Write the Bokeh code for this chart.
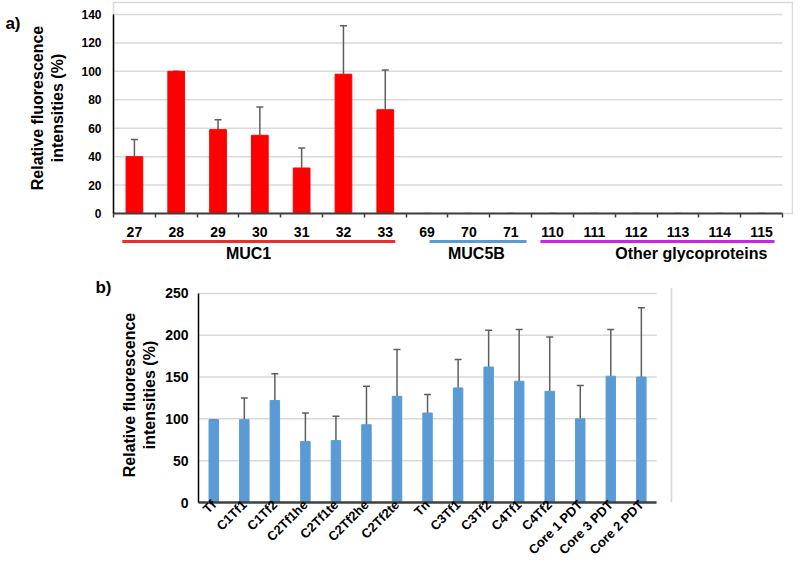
import math
import numpy as np
from bokeh.plotting import figure
from bokeh.models import (ColumnDataSource, FixedTicker, Range1d, Whisker, TeeHead,
                          Span, LinearAxis)
from bokeh.embed import file_html
from bokeh.resources import INLINE
from bokeh.core.properties import value

FONT = "Liberation Sans"

# ---------------- data: panel a ----------------
a_categories = ["27", "28", "29", "30", "31", "32", "33", "69", "70", "71",
                "110", "111", "112", "113", "114", "115"]
a_values = [40, 100, 59, 55, 32, 98, 73, 0, 0, 0, 0, 0, 0, 0, 0, 0]
a_err_top = [52, 100, 66, 75, 46, 132, 101, 0, 0, 0, 0, 0, 0, 0, 0, 0]
a_groups = ["MUC1", "MUC5B", "Other glycoproteins"]
a_group_sizes = [7, 3, 6]
a_yticks = [0, 20, 40, 60, 80, 100, 120, 140]

# ---------------- data: panel b ----------------
b_categories = ["Tf", "C1Tf1", "C1Tf2", "C2Tf1he", "C2Tf1te", "C2Tf2he", "C2Tf2te",
                "Tn", "C3Tf1", "C3Tf2", "C4Tf1", "C4Tf2", "Core 1 PDT",
                "Core 3 PDT", "Core 2 PDT"]
b_values = [99, 99, 122, 73, 74, 93, 127, 107, 137, 162, 145, 133, 100, 151, 150]
b_err_top = [99, 125, 154, 107, 103, 139, 183, 129, 171, 206, 207, 198, 140, 207, 233]
b_yticks = [0, 50, 100, 150, 200, 250]

# ---------------- styles ----------------
group_colors = ["#f42a2a", "#5b9bd5", "#cc22ee"]
group_line_inset = [(0.21, 0.26), (0.56, 0.12), (0.21, 0.19)]
group_label_shift = [-0.27, 0.18, 0.82]
GRID = "#d9d9d9"
ERR = "#5f5f5f"
YLABEL = "Relative fluorescence\nintensities (%)"


def style_common(p):
    p.grid.visible = False
    p.background_fill_color = "white"
    p.border_fill_color = "white"


def panel_tag(p, text, standoff, line_height=1.2):
    ax = LinearAxis(ticker=FixedTicker(ticks=[]),
                    axis_line_color=None, major_tick_line_color=None,
                    minor_tick_line_color=None, axis_label=text,
                    axis_label_text_font=FONT, axis_label_text_font_style="bold",
                    axis_label_text_font_size="17px", axis_label_text_color="#000000",
                    axis_label_text_line_height=line_height,
                    axis_label_standoff=standoff)
    ax.axis_label_orientation = "horizontal"
    ax.axis_label_align = "end"
    p.add_layout(ax, "left")


# ================= panel a =================
na = len(a_categories)
xa = np.arange(na) + 0.5
pa = figure(width=793, height=239, output_backend="svg", toolbar_location=None,
            x_range=Range1d(0, na + 0.24), y_range=Range1d(0, 148.44),
            min_border_left=113, min_border_right=1, min_border_top=2,
            min_border_bottom=26)
style_common(pa)
pa.outline_line_color = GRID
pa.outline_line_width = 1.5

pa.segment(x0=[0] * len(a_yticks), x1=[na] * len(a_yticks), y0=a_yticks, y1=a_yticks,
           line_color=GRID, line_width=1.5, level="underlay")

src_a = ColumnDataSource(dict(x=xa, top=a_values, up=a_err_top))
pa.vbar(x="x", top="top", width=0.4, source=src_a, fill_color="#ff0000",
        line_color="#ff0000")
pa.add_layout(Whisker(source=src_a, base="x", lower="top", upper="up",
                      dimension="height", line_color=ERR, line_width=1.5,
                      upper_head=TeeHead(size=7, line_color=ERR, line_width=1.5),
                      lower_head=None))

ya = pa.yaxis[0]
ya.ticker = FixedTicker(ticks=a_yticks)
ya.bounds = (0, 140)
ya.major_tick_out = 0
ya.major_tick_in = 0
ya.minor_tick_out = 0
ya.axis_line_color = "#000000"
ya.axis_line_width = 1.5
ya.major_label_text_font = FONT
ya.major_label_text_font_style = "bold"
ya.major_label_text_font_size = "12px"
ya.major_label_text_color = "#000000"
ya.major_label_standoff = 12
ya.axis_label = YLABEL
ya.axis_label_text_font = FONT
ya.axis_label_text_font_style = "bold"
ya.axis_label_text_font_size = "16px"
ya.axis_label_text_color = "#000000"
ya.axis_label_standoff = 12

xaa = pa.xaxis[0]
xaa.ticker = FixedTicker(ticks=list(xa), minor_ticks=list(range(na + 1)))
xaa.major_label_overrides = {float(x): c for x, c in zip(xa, a_categories)}
xaa.bounds = (0, na)
xaa.major_tick_out = 0
xaa.major_tick_in = 0
xaa.minor_tick_out = 4
xaa.minor_tick_in = 0
xaa.minor_tick_line_color = "#404040"
xaa.minor_tick_line_width = 1.5
xaa.axis_line_color = "#404040"
xaa.axis_line_width = 2
xaa.major_label_text_font = FONT
xaa.major_label_text_font_style = "bold"
xaa.major_label_text_font_size = "14px"
xaa.major_label_text_color = "#000000"
xaa.major_label_standoff = 9

panel_tag(pa, "\n\na)", 6, line_height=1.1)

# ================= group strip =================
pg = figure(width=793, height=26, output_backend="svg", toolbar_location=None,
            x_range=pa.x_range, y_range=Range1d(26, 0),
            x_axis_location=None, y_axis_location=None,
            min_border_left=113, min_border_right=1, min_border_top=0,
            min_border_bottom=0)
style_common(pg)
pg.outline_line_color = None
g_start = np.concatenate([[0], np.cumsum(a_group_sizes)[:-1]])
g_end = np.cumsum(a_group_sizes)
gx0 = [s + ins[0] for s, ins in zip(g_start, group_line_inset)]
gx1 = [e - ins[1] for e, ins in zip(g_end, group_line_inset)]
pg.segment(x0=gx0, x1=gx1, y0=[2] * 3, y1=[2] * 3, line_color=group_colors,
           line_width=3)
gcx = [(s + e) / 2 + sh for s, e, sh in zip(g_start, g_end, group_label_shift)]
pg.text(x=gcx, y=[14] * 3, text=a_groups, text_align="center", text_baseline="middle",
        text_font=value(FONT), text_font_style="bold", text_font_size="16px",
        text_color="#000000")

# ================= panel b =================
nb = len(b_categories)
xb = np.arange(nb) + 0.5
pb = figure(width=700, height=300, output_backend="svg", toolbar_location=None,
            x_range=Range1d(0, nb + 0.52), y_range=Range1d(0, 257.1),
            min_border_left=198, min_border_right=28, min_border_top=22,
            min_border_bottom=61)
style_common(pb)
pb.outline_line_color = None

pb.segment(x0=[0] * len(b_yticks), x1=[nb] * len(b_yticks), y0=b_yticks, y1=b_yticks,
           line_color=GRID, line_width=1.5, level="underlay")
pb.add_layout(Span(location=nb + 0.49, dimension="height", line_color=GRID,
                   line_width=2))

src_b = ColumnDataSource(dict(x=xb, top=b_values, up=b_err_top))
pb.vbar(x="x", top="top", width=0.31, source=src_b, fill_color="#5b9bd5",
        line_color="#5b9bd5")
pb.add_layout(Whisker(source=src_b, base="x", lower="top", upper="up",
                      dimension="height", line_color=ERR, line_width=1.5,
                      upper_head=TeeHead(size=7, line_color=ERR, line_width=1.5),
                      lower_head=None))

yb = pb.yaxis[0]
yb.ticker = FixedTicker(ticks=b_yticks)
yb.bounds = (0, 250)
yb.major_tick_out = 0
yb.major_tick_in = 0
yb.axis_line_color = "#000000"
yb.axis_line_width = 1.5
yb.major_label_text_font = FONT
yb.major_label_text_font_style = "bold"
yb.major_label_text_font_size = "14px"
yb.major_label_text_color = "#000000"
yb.major_label_standoff = 10
yb.axis_label = YLABEL
yb.axis_label_text_font = FONT
yb.axis_label_text_font_style = "bold"
yb.axis_label_text_font_size = "16px"
yb.axis_label_text_color = "#000000"
yb.axis_label_standoff = 4

xbb = pb.xaxis[0]
xbb.ticker = FixedTicker(ticks=list(xb))
xbb.major_label_overrides = {float(x): c for x, c in zip(xb, b_categories)}
xbb.bounds = (0, nb)
xbb.major_tick_out = 0
xbb.major_tick_in = 0
xbb.axis_line_color = "#404040"
xbb.axis_line_width = 2.5
xbb.major_label_orientation = math.pi / 4
xbb.major_label_text_font = FONT
xbb.major_label_text_font_style = "bold"
xbb.major_label_text_font_size = "13px"
xbb.major_label_text_color = "#000000"
xbb.major_label_standoff = 0

panel_tag(pb, "b)", 6)

open("out.html", "w").write(file_html([pa, pg, pb], INLINE))
